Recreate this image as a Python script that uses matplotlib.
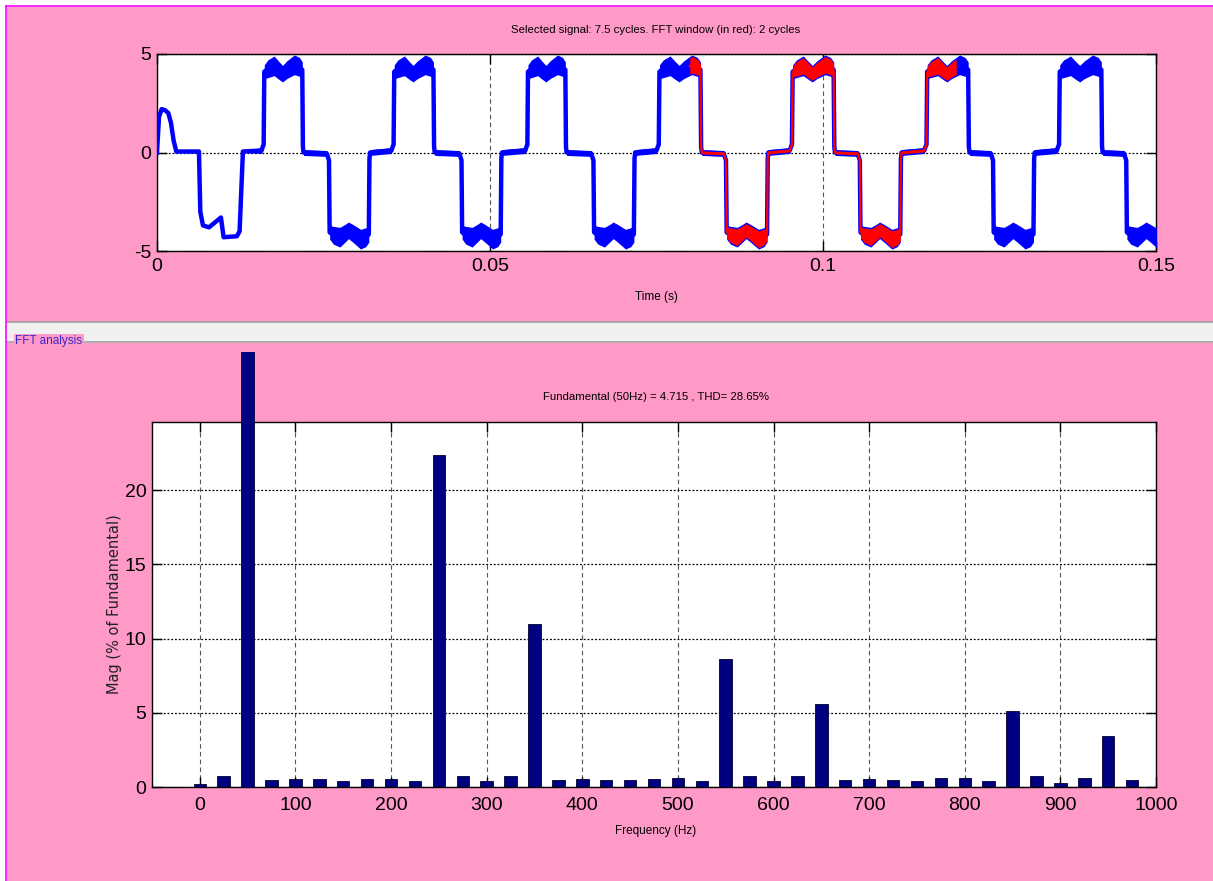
import numpy as np
import matplotlib
matplotlib.use("Agg")
import matplotlib.pyplot as plt
from matplotlib.patches import Rectangle

plt.rcParams['font.family'] = ['Liberation Sans', 'DejaVu Sans']

# ---- top signal: start-up transient, read point by point (s, value)
t_start = [0.0, 0.0003, 0.0007, 0.0012, 0.0017, 0.0021, 0.0025, 0.0029, 0.0063,
           0.0065, 0.0069, 0.0078, 0.0096, 0.0100, 0.0120, 0.0124, 0.0129]
v_start = [0.0, 1.8, 2.2, 2.15, 2.0, 1.5, 0.6, 0.05, 0.05,
           -3.0, -3.7, -3.8, -3.3, -4.3, -4.25, -4.0, 0.05]

# pulse edges (s)
pos_start = [0.0157, 0.0352, 0.0553, 0.0750, 0.0950, 0.1152, 0.1351]
pos_end = [0.0220, 0.0417, 0.0615, 0.0818, 0.1018, 0.1220, 0.1420]
neg_start = [0.0255, 0.0454, 0.0652, 0.0851, 0.1052, 0.1252, 0.1452]
neg_end = [0.0320, 0.0518, 0.0718, 0.0918, 0.1118, 0.1318, 0.1518]

# plateau shape across one pulse (fraction of pulse, level, noise half-band)
shape_frac = [0.00, 0.03, 0.05, 0.065, 0.15, 0.30, 0.42, 0.50, 0.60, 0.78, 0.90, 0.97, 0.985, 1.00]
top_val = [0.10, 0.30, 0.40, 4.10, 4.25, 4.40, 4.15, 4.00, 4.20, 4.45, 4.35, 4.20, 0.30, 0.00]
bot_val = [-0.05, -0.25, -0.40, -4.05, -4.20, -4.30, -4.10, -3.95, -4.10, -4.40, -4.30, -4.15, -0.30, 0.00]
band = [0.15, 0.15, 0.15, 0.35, 0.45, 0.50, 0.45, 0.42, 0.45, 0.50, 0.48, 0.40, 0.15, 0.15]

fft_window = (0.08, 0.12)

# ---- FFT bars
freq = [0, 25, 50, 75, 100, 125, 150, 175, 200, 225, 250, 275, 300, 325, 350, 375,
        400, 425, 450, 475, 500, 525, 550, 575, 600, 625, 650, 675, 700, 725, 750,
        775, 800, 825, 850, 875, 900, 925, 950, 975]
mag = [0.2, 0.72, 100, 0.47, 0.56, 0.56, 0.38, 0.56, 0.56, 0.38, 22.4, 0.72, 0.38,
       0.72, 11.0, 0.47, 0.56, 0.47, 0.47, 0.56, 0.64, 0.38, 8.6, 0.71, 0.38, 0.71,
       5.62, 0.47, 0.56, 0.47, 0.38, 0.64, 0.64, 0.38, 5.11, 0.71, 0.29, 0.64, 3.47, 0.47]

pink = '#FF99C8'
W, H = 1213, 881
fig = plt.figure(figsize=(W / 100, H / 100), dpi=100)
fig.patch.set_facecolor('white')


def fy(y):
    return 1 - y / H


# panels (behind the axes)
fig.patches.append(Rectangle((7 / W, fy(322)), 1, (322 - 7) / H, transform=fig.transFigure,
                             facecolor=pink, edgecolor='none', zorder=-5))
fig.patches.append(Rectangle((7 / W, fy(342)), 1, 20 / H, transform=fig.transFigure,
                             facecolor='#F0F0F0', edgecolor='none', zorder=-5))
fig.patches.append(Rectangle((7 / W, 0), 1, fy(343), transform=fig.transFigure,
                             facecolor=pink, edgecolor='none', zorder=-5))
for yy in (322, 342):
    fig.add_artist(plt.Line2D([7 / W, 1], [fy(yy), fy(yy)], transform=fig.transFigure,
                              color='#A0A0A0', lw=1.2, zorder=-4))
fig.add_artist(plt.Line2D([6 / W, 1], [fy(6), fy(6)], transform=fig.transFigure, color='#FF00FF', lw=1.2))
fig.add_artist(plt.Line2D([6 / W, 6 / W], [0, fy(6)], transform=fig.transFigure, color='#FF00FF', lw=1.2))


def style(ax):
    ax.set_facecolor('white')
    ax.tick_params(direction='in', length=7.5, width=1, top=True, right=True,
                   labelsize=14, colors='black')
    ax.tick_params(axis='x', pad=5)
    ax.tick_params(axis='y', pad=4)
    ax.xaxis.grid(True, linestyle=(0, (4, 3)), color='#555555', lw=0.8)
    ax.yaxis.grid(True, linestyle=(0, (1.5, 1.5)), color='black', lw=0.9)
    for s in ax.spines.values():
        s.set_color('black')
        s.set_linewidth(1)


# ---- build the trace
ts, vs, bs = list(t_start), list(v_start), [0.05] * len(t_start)
for s, e in zip(pos_start, pos_end):
    ts += [s + f * (e - s) for f in shape_frac]
    vs += top_val
    bs += band
for s, e in zip(neg_start, neg_end):
    ts += [s + f * (e - s) for f in shape_frac]
    vs += bot_val
    bs += band
order = np.argsort(ts)
ts = np.array(ts)[order]
vs = np.array(vs)[order]
bs = np.array(bs)[order]
tw = np.union1d(ts, fft_window)
vw = np.interp(tw, ts, vs)
bw = np.interp(tw, ts, bs)
win = (tw >= fft_window[0]) & (tw <= fft_window[1])

ax1 = fig.add_axes([157 / W, fy(251), 999 / W, 197 / H])
style(ax1)
ax1.fill_between(tw, vw - bw, vw + bw, color='#0000FF', lw=0, zorder=3)
ax1.plot(tw, vw, color='#0000FF', lw=3.2, zorder=3, solid_joinstyle='round')
ax1.fill_between(tw, vw - bw + 0.08, vw + bw - 0.08, where=win, color='#FF0000', lw=0, zorder=4)
ax1.plot(tw[win], vw[win], color='#FF0000', lw=1.6, zorder=4)
ax1.set_xlim(0, 0.15)
ax1.set_ylim(-5, 5)
ax1.set_xticks([0, 0.05, 0.1, 0.15])
ax1.set_xticklabels(['0', '0.05', '0.1', '0.15'])
ax1.set_yticks([-5, 0, 5])
ax1.set_yticklabels(['-5', '0', '5'])

fig.text(656 / W, fy(30), 'Selected signal: 7.5 cycles. FFT window (in red): 2 cycles',
         ha='center', va='center', fontsize=8.2)
fig.text(656 / W, fy(297), 'Time (s)', ha='center', va='center', fontsize=8.5)
fig.text(15 / W, fy(341), 'FFT analysis', ha='left', va='center', fontsize=8.5, color='#3C28C8',
         bbox=dict(facecolor=pink, edgecolor='none', pad=1))

# ---- FFT bars
ax2 = fig.add_axes([152 / W, fy(787), 1004 / W, 365 / H])
style(ax2)
ax2.set_axisbelow(True)
bars = ax2.bar(freq, mag, width=13, color='#000080', edgecolor='#000033', lw=0.6, zorder=2)
clip = Rectangle((0, 0), 1, fy(352), transform=fig.transFigure)
for b, m in zip(bars, mag):
    if m > 24.6:
        b.set_clip_on(True)
        b.set_clip_path(clip)
        b.set_zorder(3)
ax2.set_xlim(-50, 1000)
ax2.set_ylim(0, 24.6)
ax2.set_xticks([0, 100, 200, 300, 400, 500, 600, 700, 800, 900, 1000])
ax2.set_yticks([0, 5, 10, 15, 20])
ax2.tick_params(axis='x', pad=7)

fig.text(656 / W, fy(397), 'Fundamental (50Hz) = 4.715 , THD= 28.65%',
         ha='center', va='center', fontsize=8.2)
fig.text(656 / W, fy(831), 'Frequency (Hz)', ha='center', va='center', fontsize=8.5)
fig.text(115 / W, fy(604), 'Mag (% of Fundamental)', ha='center', va='center', rotation=90,
         fontsize=10.5, family='DejaVu Sans', color='#222222')

fig.savefig('out.png', dpi=100, facecolor=fig.get_facecolor())
